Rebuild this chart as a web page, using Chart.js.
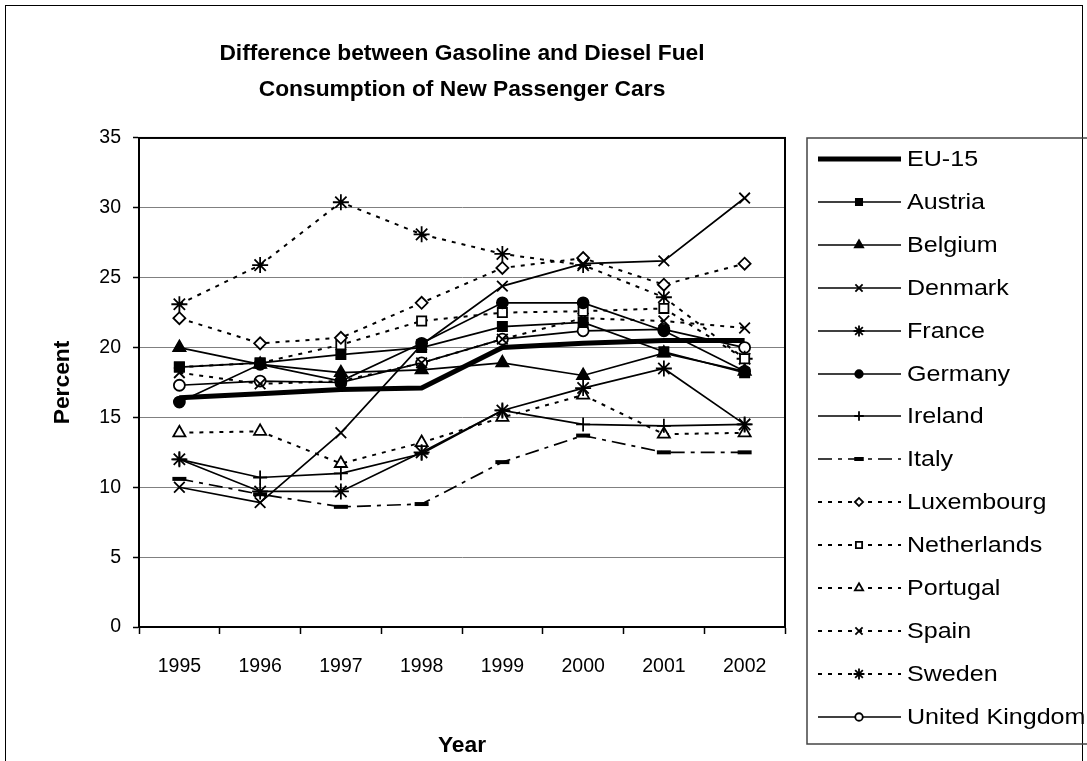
<!DOCTYPE html>
<html>
<head>
<meta charset="utf-8">
<title>Gasoline vs Diesel Fuel Consumption</title>
<style>
  html, body { margin: 0; padding: 0; background: #fff; }
  canvas { display: block; }
</style>
</head>
<body>
<canvas id="fuelChart" width="1087" height="761"></canvas>
<script src="https://cdn.jsdelivr.net/npm/chart.js@4"></script>
<script>
// values (percent)
const years = ['1995', '1996', '1997', '1998', '1999', '2000', '2001', '2002'];
const yTicks = [0, 5, 10, 15, 20, 25, 30, 35];

const eu15 = [16.4, 16.7, 17.0, 17.1, 20.0, 20.3, 20.5, 20.5];
const austria = [18.6, 18.9, 19.5, 20.0, 21.5, 21.8, 19.7, 18.2];
const belgium = [20.0, 18.8, 18.2, 18.4, 18.9, 18.0, 19.6, 18.3];
const denmark = [10.0, 8.9, 13.9, 20.2, 24.4, 26.0, 26.2, 30.7];
const france = [12.0, 9.7, 9.7, 12.5, 15.5, 17.1, 18.5, 14.5];
const germany = [16.1, 18.8, 17.6, 20.3, 23.2, 23.2, 21.2, 18.3];
const ireland = [12.0, 10.7, 11.0, 12.4, 15.5, 14.5, 14.4, 14.5];
const italy = [10.6, 9.5, 8.6, 8.8, 11.8, 13.7, 12.5, 12.5];
const luxembourg = [22.1, 20.3, 20.7, 23.2, 25.7, 26.4, 24.5, 26.0];
const netherlands = [18.6, 18.9, 20.2, 21.9, 22.5, 22.6, 22.8, 19.2];
const portugal = [13.9, 14.0, 11.7, 13.2, 15.0, 16.6, 13.8, 13.9];
const spain = [18.2, 17.4, 17.6, 18.9, 20.6, 22.1, 21.9, 21.4];
const sweden = [23.1, 25.9, 30.4, 28.1, 26.7, 25.9, 23.6, 19.2];
const unitedKingdom = [17.3, 17.6, 17.5, 18.9, 20.6, 21.2, 21.3, 20.0];

const SOLID = [];
const DOTTED = [4, 6];
const DASH_DOT = [14, 6, 4, 6];

function series(label, data, dash, pointStyle, filled, radius, lineWidth) {
  return {
    label: label,
    data: data,
    borderColor: '#000',
    borderWidth: lineWidth || (dash === DOTTED ? 2 : 1.7),
    borderDash: dash,
    fill: false,
    tension: 0,
    pointStyle: pointStyle,
    pointRadius: radius,
    pointHoverRadius: radius,
    pointBorderColor: '#000',
    pointBackgroundColor: filled ? '#000' : '#fff',
    pointBorderWidth: pointStyle === 'line' ? 4 : 1.8
  };
}

const datasets = [
  series('EU-15', eu15, SOLID, 'circle', true, 0, 5),
  series('Austria', austria, SOLID, 'rect', true, 6.5),
  series('Belgium', belgium, SOLID, 'triangle', true, 7),
  series('Denmark', denmark, SOLID, 'crossRot', false, 7.5),
  series('France', france, SOLID, 'star', false, 8),
  series('Germany', germany, SOLID, 'circle', true, 5.5),
  series('Ireland', ireland, SOLID, 'cross', false, 7),
  series('Italy', italy, DASH_DOT, 'line', true, 7),
  series('Luxembourg', luxembourg, DOTTED, 'rectRot', false, 6),
  series('Netherlands', netherlands, DOTTED, 'rect', false, 6.5),
  series('Portugal', portugal, DOTTED, 'triangle', false, 7),
  series('Spain', spain, DOTTED, 'crossRot', false, 7.5),
  series('Sweden', sweden, DOTTED, 'star', false, 8),
  series('United Kingdom', unitedKingdom, SOLID, 'circle', false, 5.5)
];

// frame, plot border and the legend on the right
const frameAndLegend = {
  id: 'frameAndLegend',
  beforeDraw(chart) {
    const ctx = chart.ctx;
    ctx.save();
    ctx.fillStyle = '#fff';
    ctx.fillRect(0, 0, chart.width, chart.height);
    ctx.strokeStyle = '#000';
    ctx.lineWidth = 1;
    ctx.strokeRect(5.5, 5.5, 1077, 900);
    ctx.restore();
  },
  afterDraw(chart) {
    const ctx = chart.ctx;
    const a = chart.chartArea;
    ctx.save();
    ctx.strokeStyle = '#000';
    ctx.lineWidth = 2;
    ctx.strokeRect(a.left, a.top, a.right - a.left, a.bottom - a.top);

    ctx.strokeStyle = '#444';
    ctx.lineWidth = 1.5;
    ctx.strokeRect(807, 138, 400, 606);

    chart.data.datasets.forEach((ds, i) => {
      const y = Math.round(159 + i * 42.9);
      ctx.strokeStyle = '#000';
      ctx.lineWidth = ds.borderWidth;
      ctx.setLineDash(ds.borderDash);
      ctx.beginPath();
      ctx.moveTo(818, y);
      ctx.lineTo(901, y);
      ctx.stroke();
      ctx.setLineDash([]);
      if (ds.pointRadius > 0) {
        ctx.fillStyle = ds.pointBackgroundColor;
        ctx.lineWidth = ds.pointBorderWidth;
        Chart.helpers.drawPoint(ctx, {
          pointStyle: ds.pointStyle,
          rotation: 0,
          radius: ds.pointRadius * 0.68,
          borderWidth: ds.pointBorderWidth
        }, 859, y);
      }
      ctx.save();
      ctx.fillStyle = '#000';
      ctx.font = '22px Arial, "Liberation Sans", sans-serif';
      ctx.textBaseline = 'middle';
      ctx.translate(907, y + 1);
      ctx.scale(1.14, 1);
      ctx.fillText(ds.label, 0, 0);
      ctx.restore();
    });
    ctx.restore();
  }
};

Chart.defaults.font.family = 'Arial, "Liberation Sans", sans-serif';
Chart.defaults.color = '#000';

const ctx = document.getElementById('fuelChart').getContext('2d');
const fuelChart = new Chart(ctx, {
  type: 'line',
  data: {
    labels: years,
    datasets: datasets
  },
  options: {
    responsive: false,
    animation: false,
    devicePixelRatio: 1,
    layout: {
      padding: { left: 0, right: 302, top: 0, bottom: 0 }
    },
    plugins: {
      legend: { display: false },
      tooltip: { enabled: false },
      title: {
        display: true,
        fullSize: false,
        text: ['Difference between Gasoline and Diesel Fuel', 'Consumption of New Passenger Cars'],
        font: { size: 22.8, weight: 'bold', lineHeight: 1.6 },
        padding: { top: 35, bottom: 30 }
      }
    },
    scales: {
      x: {
        offset: true,
        grid: {
          offset: true,
          drawOnChartArea: false,
          tickLength: 7,
          tickColor: '#000',
          tickWidth: 1.5
        },
        border: { color: '#000', width: 2 },
        ticks: {
          font: { size: 19.5 },
          padding: 21,
          maxRotation: 0
        },
        title: {
          display: true,
          text: 'Year',
          font: { size: 22.8, weight: 'bold', lineHeight: 1.2 },
          padding: { top: 0, bottom: 2 }
        },
        afterFit(scale) { scale.height = 134; }
      },
      y: {
        min: yTicks[0],
        max: yTicks[yTicks.length - 1],
        afterBuildTicks(scale) {
          scale.ticks = yTicks.map(v => ({ value: v }));
        },
        grid: {
          color: '#808080',
          lineWidth: 1,
          tickLength: 6,
          tickColor: '#000',
          tickWidth: 1.5
        },
        border: { color: '#000', width: 2 },
        ticks: {
          font: { size: 19.5 },
          padding: 12
        },
        title: {
          display: true,
          text: 'Percent',
          font: { size: 22.8, weight: 'bold', lineHeight: 1.2 },
          padding: { top: 49, bottom: 0 }
        },
        afterFit(scale) { scale.width = 139; }
      }
    }
  },
  plugins: [frameAndLegend]
});
</script>
</body>
</html>
